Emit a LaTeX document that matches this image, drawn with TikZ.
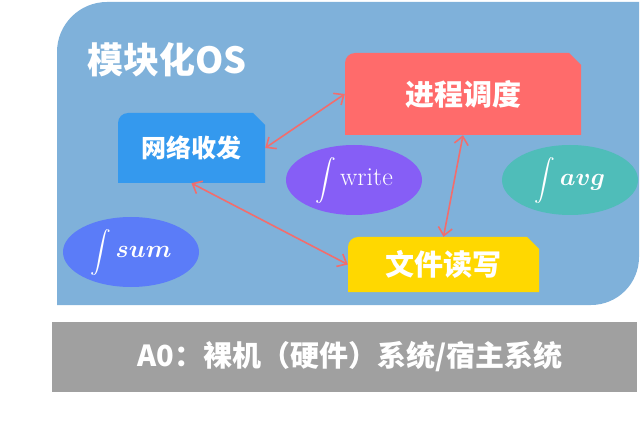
\documentclass[tikz,border=0pt]{standalone}
\usepackage{fontspec}
\usepackage{exscale}
\usepackage{bm}
\newfontfamily\cjk{Noto Sans CJK SC}
\usetikzlibrary{shapes.geometric,arrows.meta}
\definecolor{bgblue}{HTML}{7FB1DA}
\definecolor{schedred}{HTML}{FF6B6B}
\definecolor{netblue}{HTML}{3499EE}
\definecolor{fileyellow}{HTML}{FFD800}
\definecolor{writepurple}{HTML}{865EF6}
\definecolor{avgteal}{HTML}{4FBDB9}
\definecolor{sumblue}{HTML}{5B7CF8}
\definecolor{hostgray}{HTML}{A0A0A0}
\definecolor{linkred}{HTML}{F26D6D}
\newcommand{\bigint}{{\fontsize{21}{23}\selectfont$\displaystyle\int$}\,}
\begin{document}
\begin{tikzpicture}[x=1pt,y=-1pt,
		modbox/.style={inner sep=0pt, text=white,
			font=\cjk\bfseries\fontsize{29}{32}\selectfont,
			path picture={\fill[#1] (path picture bounding box.south west)
				-- ([yshift=-10pt]path picture bounding box.north west)
				arc[start angle=180, end angle=90, radius=10pt]
				-- ([xshift=-12pt]path picture bounding box.north east)
				-- ([yshift=-12pt]path picture bounding box.north east)
				-- (path picture bounding box.south east) -- cycle;}},
		func/.style={ellipse, fill=#1, minimum width=136pt, minimum height=70pt,
			inner sep=0pt, text height=12pt, text depth=0pt,
			text=white, font=\fontsize{26}{28}\selectfont},
		link/.style={draw=linkred, line width=1.6pt, <->,
			>={Straight Barb[length=8pt,width=14pt]}}]
	\useasboundingbox (0,0) rectangle (642,438);
	% base layers
	\fill[bgblue] (57,305) -- (57,52) arc[start angle=180, end angle=90, radius=50pt]
		-- (639,2) -- (639,257) arc[start angle=0, end angle=-90, radius=48pt] -- cycle;
	\fill[hostgray] (52,322) rectangle (637,392);
	\node[text=white, font=\cjk\bfseries\fontsize{29}{31}\selectfont]
		(Host) at (350,357) {A0：裸机（硬件）系统/宿主系统};
	\node[text=white, font=\cjk\bfseries\fontsize{36}{40}\selectfont, anchor=west]
		(Title) at (84,60) {模块化OS};
	% modules
	\node[modbox=schedred, minimum width=236pt, minimum height=82pt] (Sched) at (463,94) {进程调度};
	\node[modbox=netblue, minimum width=147pt, minimum height=70pt,
		font=\cjk\bfseries\fontsize{25}{28}\selectfont] (Net) at (191.5,148) {网络收发};
	\node[modbox=fileyellow, minimum width=191pt, minimum height=55pt] (File) at (443.5,264.5) {文件读写};
	% functions
	\node[func=writepurple] (fWrite) at (354,180) {\bigint$\mathrm{write}$};
	\node[func=avgteal] (fAvg) at (570,180) {\bigint$\bm{avg}$};
	\node[func=sumblue] (fSum) at (131,252) {\bigint$\bm{sum}$};
	% links
	\draw[link] (Net.east) -- (Sched.west);
	\draw[link] (Net.south) -- (File.west);
	\draw[link] (Sched.south) -- (File.north);
\end{tikzpicture}
\end{document}
